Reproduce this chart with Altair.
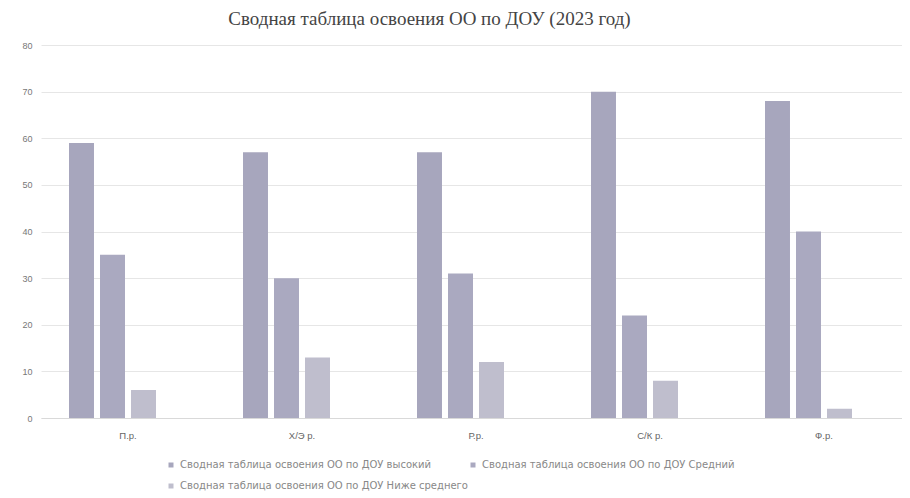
import altair as alt
import pandas as pd

categories = ["П.р.", "Х/Э р.", "Р.р.", "С/К р.", "Ф.р."]
series = [
    "Сводная таблица освоения ОО по ДОУ высокий",
    "Сводная таблица освоения ОО по ДОУ Средний",
    "Сводная таблица освоения ОО по ДОУ Ниже среднего",
]
high = [59, 57, 57, 70, 68]
mid = [35, 30, 31, 22, 40]
low = [6, 13, 12, 8, 2]
colors = ["#a7a6bd", "#aaa9c0", "#bfbecd"]

rows = []
for s, vals in zip(series, [high, mid, low]):
    for c, v in zip(categories, vals):
        rows.append({"cat": c, "series": s, "value": v})
df = pd.DataFrame(rows)

offset_domain = series + ["_empty"]
legend_order = [series[0], series[2], series[1]]

chart = alt.Chart(df).mark_bar().encode(
    x=alt.X("cat:N", sort=categories, title=None,
            scale=alt.Scale(paddingInner=0, paddingOuter=0, range=[0, 870]),
            axis=alt.Axis(labelAngle=0, ticks=False, domain=True, domainColor="#d9d9d9",
                          labelFont="Liberation Sans", labelFontSize=9.5, labelColor="#666666",
                          labelPadding=12)),
    xOffset=alt.XOffset("series:N", scale=alt.Scale(domain=offset_domain, paddingInner=0.194, paddingOuter=0.903)),
    y=alt.Y("value:Q", title=None,
            scale=alt.Scale(domain=[0, 80]),
            axis=alt.Axis(values=list(range(0, 81, 10)), ticks=False, domain=False,
                          gridColor="#e6e6e6", gridWidth=1,
                          labelFont="Liberation Sans", labelFontSize=9, labelColor="#777777",
                          labelPadding=9)),
    color=alt.Color("series:N", scale=alt.Scale(domain=series, range=colors),
                    legend=alt.Legend(title=None, orient="none", legendX=125, legendY=415,
                                      values=legend_order,
                                      columns=2, columnPadding=0, rowPadding=11,
                                      symbolType="square", symbolSize=25, symbolStrokeWidth=0,
                                      labelFont="DejaVu Sans", labelFontSize=10,
                                      labelColor="#888888", labelLimit=400)),
).properties(
    width=861,
    height=373,
    title=alt.TitleParams("Сводная таблица освоения ОО по ДОУ (2023 год)",
                          font="Liberation Serif", fontSize=19, fontWeight="normal",
                          color="#444444", offset=12, dx=-42),
    autosize=alt.AutoSizeParams(type="none"),
    padding={"left": 33, "top": 37, "right": 0, "bottom": 80},
).configure_view(stroke=None)

chart.save("out.html", embed_options={"renderer": "svg", "actions": False})
